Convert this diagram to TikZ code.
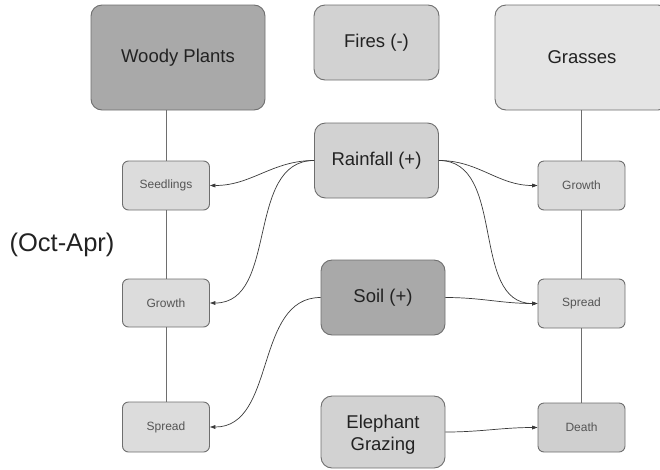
\documentclass[tikz,border=0pt]{standalone}
\usepackage{fontspec}
\setmainfont{Liberation Sans}
\usetikzlibrary{arrows.meta}
\definecolor{bordc}{HTML}{6E6E6E}
\definecolor{darkfill}{HTML}{A9A9A9}
\definecolor{midfill}{HTML}{D2D2D2}
\definecolor{lightfill}{HTML}{E4E4E4}
\definecolor{smallfill}{HTML}{DCDCDC}
\definecolor{deathfill}{HTML}{CFCFCF}
\definecolor{bigtext}{HTML}{222222}
\definecolor{smalltext}{HTML}{555555}
\definecolor{linec}{HTML}{3A3A3A}
\tikzset{
  bigbox/.style={draw=bordc, line width=0.9pt, rounded corners=11pt, inner sep=0pt,
    text=bigtext, font=\fontsize{18.5}{22}\selectfont, align=center},
  smallbox/.style={draw=bordc, line width=0.9pt, rounded corners=6pt, inner sep=0pt,
    minimum width=87pt, text=smalltext, font=\fontsize{12}{14}\selectfont, fill=smallfill},
  vline/.style={draw=bordc, line width=0.9pt},
  conn/.style={draw=linec, line width=0.7pt, -{Triangle[length=5.5pt,width=3.8pt]}}
}
\begin{document}
\begin{tikzpicture}[x=1pt,y=-1pt]
\useasboundingbox (0,0) rectangle (660,469);
% big boxes
\node[bigbox, fill=darkfill, minimum width=174pt, minimum height=105pt] (woody) at (178,57.5) {Woody Plants};
\node[bigbox, fill=midfill, minimum width=125pt, minimum height=75pt] (fires) at (376.5,42.5) {Fires (-)};
\node[bigbox, fill=lightfill, minimum width=174pt, minimum height=105pt] (grass) at (582,57.5) {Grasses};
\node[bigbox, fill=midfill, minimum width=124pt, minimum height=75pt] (rain) at (376.5,160.5) {Rainfall (+)};
\node[bigbox, fill=darkfill, minimum width=124pt, minimum height=75pt] (soil) at (383,297.5) {Soil (+)};
\node[bigbox, fill=midfill, minimum width=124pt, minimum height=72pt] (eleph) at (383,432) {};
\node[text=bigtext, font=\fontsize{18.5}{22.5}\selectfont, align=center, inner sep=0pt] (elephlbl) at (383,434.5) {Elephant\\Grazing};
% small boxes
\node[smallbox, minimum height=49pt] (seedL) at (166,185.5) {Seedlings};
\node[smallbox, minimum height=48pt] (growL) at (166,303) {Growth};
\node[smallbox, minimum height=50pt] (sprL) at (166,427) {Spread};
\node[smallbox, minimum height=49pt] (growR) at (581.5,185.5) {Growth};
\node[smallbox, minimum height=49pt] (sprR) at (581.5,303.5) {Spread};
\node[smallbox, minimum height=49pt, fill=deathfill] (death) at (581.5,427.5) {Death};
% label
\node[text=bigtext, font=\fontsize{25.5}{30}\selectfont, inner sep=0pt] (season) at (62,245) {(Oct-Apr)};
% vertical lines
\draw[vline] (woody.south -| seedL.north) -- (seedL.north);
\draw[vline] (seedL.south) -- (growL.north);
\draw[vline] (growL.south) -- (sprL.north);
\draw[vline] (grass.south -| growR.north) -- (growR.north);
\draw[vline] (growR.south) -- (sprR.north);
\draw[vline] (sprR.south) -- (death.north);
% connectors
\draw[conn] (rain.west) to[out=180,in=0] (seedL.east);
\draw[conn] (rain.west) to[out=180,in=0] (growL.east);
\draw[conn] (rain.east) to[out=0,in=180] (growR.west);
\draw[conn] (rain.east) to[out=0,in=180] (sprR.west);
\draw[conn] (soil.east) to[out=0,in=180] (sprR.west);
\draw[conn] (soil.west) to[out=180,in=0] (sprL.east);
\draw[conn] (eleph.east) to[out=0,in=180] (death.west);
\end{tikzpicture}
\end{document}
